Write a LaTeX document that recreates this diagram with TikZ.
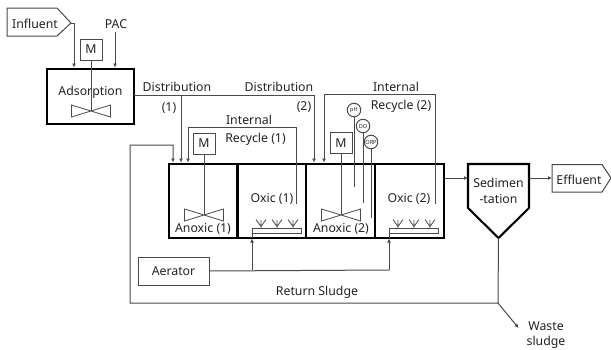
\documentclass[tikz,border=0pt]{standalone}
\usepackage{fontspec}
\setmainfont{Noto Sans}
\usetikzlibrary{arrows.meta,calc}
\definecolor{ln}{HTML}{4A4A4A}
\definecolor{tx}{HTML}{222222}
\tikzset{
  lab/.style={font=\fontsize{12.3}{14}\selectfont,text=tx,inner sep=0pt},
  thin box/.style={draw=ln,line width=1pt,fill=white,inner sep=0pt,outer sep=0pt},
  tank/.style={draw=black,line width=2.1pt,inner sep=0pt,outer sep=0pt},
  conn/.style={draw=ln,line width=1pt},
  arr/.style={conn,-{Latex[length=4pt,width=4pt]}},
  probe/.style={circle,draw=ln,line width=1pt,fill=white,minimum size=13.5pt,inner sep=0pt,outer sep=0pt,font=\fontsize{5.6}{6}\bfseries\selectfont,text=tx},
  blade/.style={draw=ln,line width=0.8pt},
}
\newcommand{\mixerblade}[2]{\draw[blade] (#1,#2) -- (#1-19.5,#2-6) -- (#1-19.5,#2+6) -- cycle (#1,#2) -- (#1+19.5,#2-6) -- (#1+19.5,#2+6) -- cycle;}
\newcommand{\diffjet}[1]{\draw[blade] (#1,228) -- (#1,220) (#1-5,219.5) -- (#1,226.5) -- (#1+5,219.5);}
\begin{document}
\begin{tikzpicture}[x=1pt,y=-1pt]
\useasboundingbox (0,0) rectangle (611,349);
% pentagons
\coordinate (inftip) at (71,23);
\draw[conn] (7,8) -- (57,8) -- (inftip) -- (57,36) -- (7,36) -- cycle;
\node[lab] (influent) at (35,23.5) {Influent};
\coordinate (efftip) at (611,178);
\draw[conn] (552,164.5) -- (602,164.5) -- (efftip) -- (602,192) -- (552,192) -- cycle;
\coordinate (effin) at (552,178);
\node[lab] (effluent) at (579,179.5) {Effluent};
% tanks
\node[tank,minimum width=87pt,minimum height=55pt] (ads) at (90.5,96.5) {};
\node[tank,minimum width=68.5pt,minimum height=74pt] (an1) at (203.25,201) {};
\node[tank,minimum width=68.5pt,minimum height=74pt] (ox1) at (271.75,201) {};
\node[tank,minimum width=68.5pt,minimum height=74pt] (an2) at (340.5,201) {};
\node[tank,minimum width=68.5pt,minimum height=74pt] (ox2) at (409.5,201) {};
\coordinate (sedapex) at (498.5,238);
\draw[tank,line join=miter] (468,164) -- (529,164) -- (529,208) -- (sedapex) -- (468,208) -- cycle;
\coordinate (sedin) at (468,178);
\coordinate (sedout) at (529,178);
% shafts and motors
\node[thin box,minimum width=22pt,minimum height=21pt,font=\fontsize{12.3}{14}\selectfont,text=tx] (m0) at (91,49.5) {M};
\node[thin box,minimum width=22pt,minimum height=21pt,font=\fontsize{12.3}{14}\selectfont,text=tx] (m1) at (204,143.5) {M};
\node[thin box,minimum width=22pt,minimum height=21pt,font=\fontsize{12.3}{14}\selectfont,text=tx] (m2) at (341,143) {M};
\coordinate (hub0) at (91,111);
\coordinate (hub1) at (204,215);
\coordinate (hub2) at (341,215);
\draw[conn] (m0.south) -- (hub0);
\draw[conn] (m1.south) -- (hub1);
\draw[conn] (m2.south) -- (hub2);
\mixerblade{91}{111}
\mixerblade{204}{215}
\mixerblade{341}{215}
% labels
\node[lab,fill=none] at (90.5,92) {Adsorption};
\node[lab] (pac) at (116,24) {PAC};
\node[lab] at (177,87) {Distribution};
\node[lab] at (169,108) {(1)};
\node[lab] at (279,87) {Distribution};
\node[lab] at (304,107) {(2)};
\node[lab] at (249,119.5) {Internal};
\node[lab] at (255.5,139.5) {Recycle (1)};
\node[lab] at (396,87) {Internal};
\node[lab] at (401,106) {Recycle (2)};
\node[lab] at (203,229) {Anoxic (1)};
\node[lab] at (272,199) {Oxic (1)};
\node[lab] at (341,229) {Anoxic (2)};
\node[lab] at (409,199) {Oxic (2)};
\node[lab] at (498.5,183) {Sedimen};
\node[lab] at (498.5,199) {-tation};
\node[lab] (ret) at (317,292) {Return Sludge};
\node[lab] at (546,326) {Waste};
\node[lab] at (546,342) {sludge};
% aerator
\node[thin box,minimum width=71pt,minimum height=28pt,font=\fontsize{12.3}{14}\selectfont,text=tx] (aer) at (173.5,271) {Aerator};
% diffusers
\node[thin box,minimum width=49pt,minimum height=5pt] (dif1) at (276.5,230.5) {};
\node[thin box,minimum width=49pt,minimum height=5pt] (dif2) at (413.5,230.5) {};
\foreach \x in {261,277,293,398,414,430} {\diffjet{\x}}
% connectors
\draw[arr] (inftip) -- (74,23) -- (74,67.5);
\draw[arr] (115,32) -- (115,67.5);
\draw[conn] (ads.east |- 0,95) -- (314,95);
\draw[arr] (314,95) -- (314,162.5);
\draw[arr] (181,95) -- (181,162.5);
\draw[arr] (296,204) -- (296,127.5) -- (188,127.5) -- (188,162.5);
\draw[arr] (435,204) -- (435,94) -- (324,94) -- (324,162.5);
\coordinate (ret0) at (498,303);
\draw[arr] (sedapex) -- (ret0) -- (130,303) -- (130,145) -- (173,145) -- (173,162.5);
\coordinate (waste) at (518.5,328);
\draw[arr] (ret0) -- (waste);
\draw[arr] (444.5,178) -- (sedin);
\draw[arr] (sedout) -- (effin);
\coordinate (j1) at (252,270);
\coordinate (j2) at (389,270);
\draw[conn] (aer.east) -- (j2);
\draw[arr] (j1) -- (252,238.5);
\draw[arr] (j2) -- (389,238.5);
\draw[conn] (252,238) -- (252,233);
\draw[conn] (389,238) -- (389,233);
% probes
\node[probe] (ph) at (354,110) {pH};
\node[probe] (do) at (363,126) {DO};
\node[probe] (orp) at (371,142) {ORP};
\draw[conn] (ph.south) -- (354,187);
\draw[conn] (do.south) -- (363,203);
\draw[conn] (orp.south) -- (371,218);
\end{tikzpicture}
\end{document}
